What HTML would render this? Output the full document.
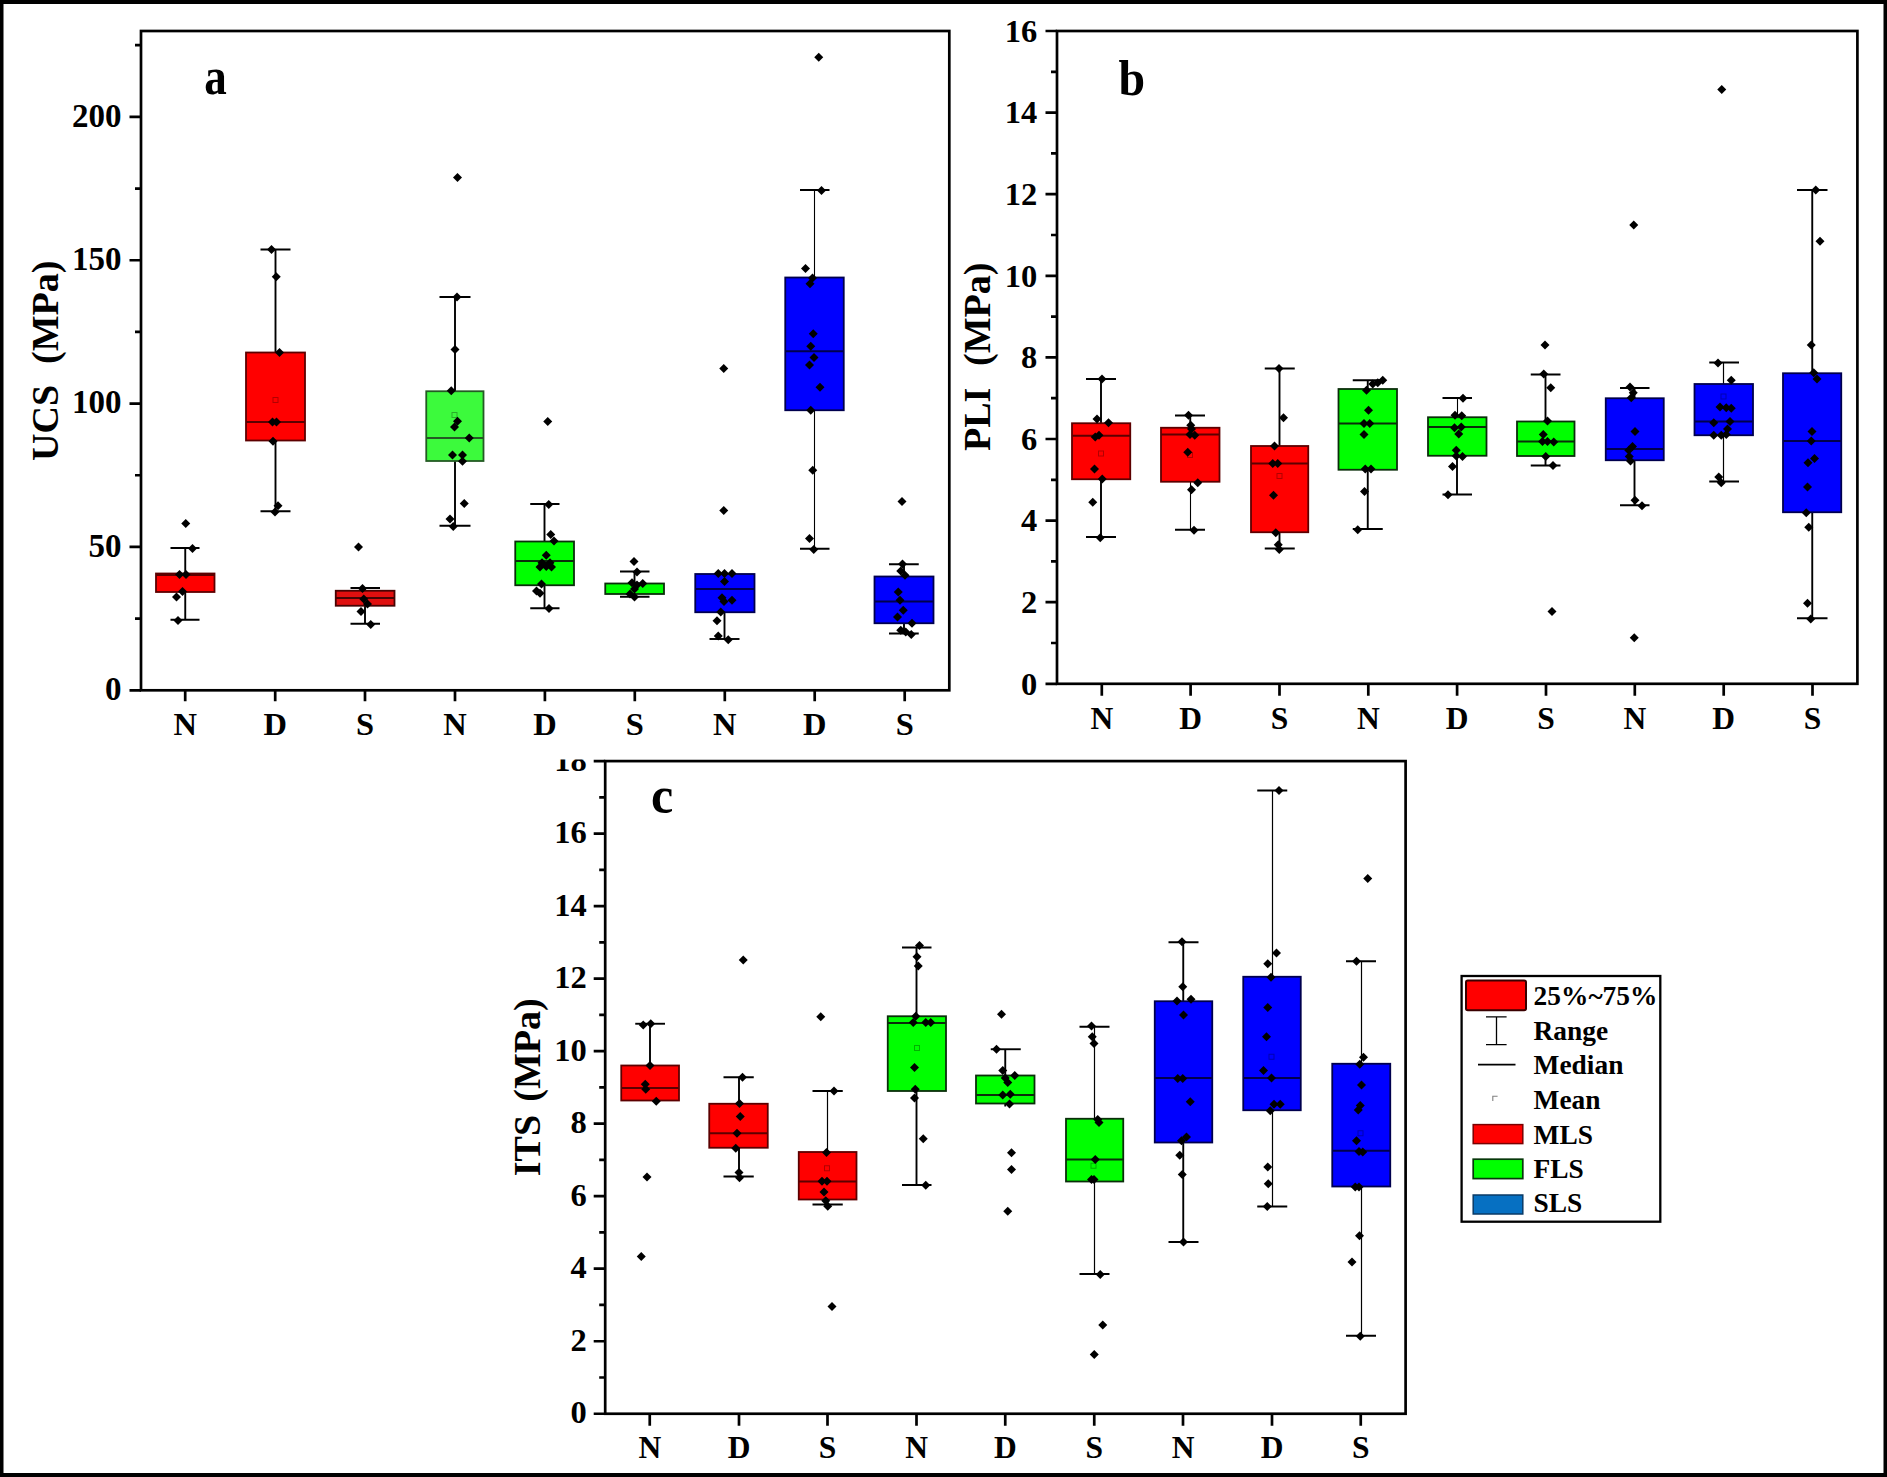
<!DOCTYPE html>
<html lang="en"><head><meta charset="utf-8"><title>Box plots of UCS, PLI and ITS</title>
<style>
html,body{margin:0;padding:0;background:#fff}
body{width:1887px;height:1477px;overflow:hidden}
svg{display:block}
.t{font-family:"Liberation Serif",serif;font-weight:bold;fill:#000}
.ax{stroke:#000;stroke-width:2.7;fill:none;stroke-linecap:butt}
.wh{stroke:#000;fill:none}
.bx{stroke-width:1.8}
.md{stroke-width:1.8;fill:none}
.mn{stroke:#000;stroke-opacity:.3;stroke-width:1;fill:none}
.pt{fill:#000}
</style></head><body>
<svg width="1887" height="1477" viewBox="0 0 1887 1477">
<rect x="0" y="0" width="1887" height="1477" fill="#fff"/>
<g class="ax">
<rect x="605.2" y="761.1" width="800.4" height="652.65" fill="none"/>
<path d="M593.7 1413.75H605.2M593.7 1341.23H605.2M593.7 1268.71H605.2M593.7 1196.19H605.2M593.7 1123.67H605.2M593.7 1051.15H605.2M593.7 978.63H605.2M593.7 906.11H605.2M593.7 833.59H605.2M593.7 761.07H605.2M599.2 1377.49H605.2M599.2 1304.97H605.2M599.2 1232.45H605.2M599.2 1159.93H605.2M599.2 1087.41H605.2M599.2 1014.89H605.2M599.2 942.37H605.2M599.2 869.85H605.2M599.2 797.33H605.2M649.75 1413.75V1425.75M739 1413.75V1425.75M827.5 1413.75V1425.75M916.5 1413.75V1425.75M1005.25 1413.75V1425.75M1094.25 1413.75V1425.75M1183 1413.75V1425.75M1272 1413.75V1425.75M1360.75 1413.75V1425.75"/>
</g>
<g class="wh">
<path d="M650 1023.75V1065.5" stroke-width="1.9"/>
<path d="M635.25 1023.75H665" stroke-width="1.9"/>
</g>
<rect class="bx" x="621.25" y="1065.5" width="57.75" height="35" fill="#ff0000" stroke="#5c0000"/>
<path class="md" d="M621.25 1088H679" stroke="#5c0000"/>
<g class="pt">
<path d="M647 1172.5l4.5 4.5l-4.5 4.5l-4.5 -4.5z"/>
<path d="M641.25 1252l4.5 4.5l-4.5 4.5l-4.5 -4.5z"/>
<path d="M643.25 1020.5l4.5 4.5l-4.5 4.5l-4.5 -4.5z"/>
<path d="M650.75 1019.25l4.5 4.5l-4.5 4.5l-4.5 -4.5z"/>
<path d="M650 1061l4.5 4.5l-4.5 4.5l-4.5 -4.5z"/>
<path d="M645.25 1079.75l4.5 4.5l-4.5 4.5l-4.5 -4.5z"/>
<path d="M645.75 1084.75l4.5 4.5l-4.5 4.5l-4.5 -4.5z"/>
<path d="M656.25 1096.75l4.5 4.5l-4.5 4.5l-4.5 -4.5z"/>
</g>
<g class="wh">
<path d="M739 1077.25V1103.75" stroke-width="1.9"/>
<path d="M739 1147.75V1176.5" stroke-width="1.9"/>
<path d="M723.5 1077.25H753.75M723.5 1176.5H753.75" stroke-width="1.9"/>
</g>
<rect class="bx" x="709.25" y="1103.75" width="58.5" height="44" fill="#ff0000" stroke="#5c0000"/>
<path class="md" d="M709.25 1133.25H767.75" stroke="#5c0000"/>
<g class="pt">
<path d="M743.25 955.5l4.5 4.5l-4.5 4.5l-4.5 -4.5z"/>
<path d="M742.5 1072.75l4.5 4.5l-4.5 4.5l-4.5 -4.5z"/>
<path d="M739.5 1099l4.5 4.5l-4.5 4.5l-4.5 -4.5z"/>
<path d="M740.25 1112l4.5 4.5l-4.5 4.5l-4.5 -4.5z"/>
<path d="M737 1128.75l4.5 4.5l-4.5 4.5l-4.5 -4.5z"/>
<path d="M735.75 1143.75l4.5 4.5l-4.5 4.5l-4.5 -4.5z"/>
<path d="M739 1168l4.5 4.5l-4.5 4.5l-4.5 -4.5z"/>
<path d="M739.5 1173.25l4.5 4.5l-4.5 4.5l-4.5 -4.5z"/>
</g>
<g class="wh">
<path d="M827.5 1091V1152" stroke-width="1.2"/>
<path d="M827.5 1199.5V1204.5" stroke-width="1.9"/>
<path d="M812.5 1091H842.75M812.5 1204.5H842.75" stroke-width="1.9"/>
</g>
<rect class="bx" x="798.75" y="1152" width="57.75" height="47.5" fill="#ff0000" stroke="#5c0000"/>
<path class="md" d="M798.75 1181.5H856.5" stroke="#5c0000"/>
<rect class="mn" x="824.5" y="1165.75" width="5" height="5"/>
<g class="pt">
<path d="M820.75 1012.25l4.5 4.5l-4.5 4.5l-4.5 -4.5z"/>
<path d="M832 1302l4.5 4.5l-4.5 4.5l-4.5 -4.5z"/>
<path d="M834 1086.5l4.5 4.5l-4.5 4.5l-4.5 -4.5z"/>
<path d="M826.5 1148l4.5 4.5l-4.5 4.5l-4.5 -4.5z"/>
<path d="M822 1176.75l4.5 4.5l-4.5 4.5l-4.5 -4.5z"/>
<path d="M827 1176.75l4.5 4.5l-4.5 4.5l-4.5 -4.5z"/>
<path d="M824 1187.5l4.5 4.5l-4.5 4.5l-4.5 -4.5z"/>
<path d="M825.75 1196.25l4.5 4.5l-4.5 4.5l-4.5 -4.5z"/>
<path d="M827.75 1201.75l4.5 4.5l-4.5 4.5l-4.5 -4.5z"/>
</g>
<g class="wh">
<path d="M916.5 947.5V1016.25" stroke-width="1.9"/>
<path d="M916.5 1091V1185" stroke-width="1.9"/>
<path d="M902 947.5H931.5M902 1185H931.5" stroke-width="1.9"/>
</g>
<rect class="bx" x="887.75" y="1016.25" width="58.25" height="74.75" fill="#00ff00" stroke="#0a2e0a"/>
<path class="md" d="M887.75 1023H946" stroke="#0a2e0a"/>
<rect class="mn" x="914.5" y="1045.5" width="5" height="5"/>
<g class="pt">
<path d="M919.5 941l4.5 4.5l-4.5 4.5l-4.5 -4.5z"/>
<path d="M917 952.25l4.5 4.5l-4.5 4.5l-4.5 -4.5z"/>
<path d="M918.25 961.5l4.5 4.5l-4.5 4.5l-4.5 -4.5z"/>
<path d="M915.75 1011.75l4.5 4.5l-4.5 4.5l-4.5 -4.5z"/>
<path d="M913.25 1018l4.5 4.5l-4.5 4.5l-4.5 -4.5z"/>
<path d="M925.75 1018l4.5 4.5l-4.5 4.5l-4.5 -4.5z"/>
<path d="M930.75 1018l4.5 4.5l-4.5 4.5l-4.5 -4.5z"/>
<path d="M914.5 1063l4.5 4.5l-4.5 4.5l-4.5 -4.5z"/>
<path d="M915.25 1084.75l4.5 4.5l-4.5 4.5l-4.5 -4.5z"/>
<path d="M914.5 1093.5l4.5 4.5l-4.5 4.5l-4.5 -4.5z"/>
<path d="M923.25 1134.25l4.5 4.5l-4.5 4.5l-4.5 -4.5z"/>
<path d="M925.75 1180.75l4.5 4.5l-4.5 4.5l-4.5 -4.5z"/>
</g>
<g class="wh">
<path d="M1005.25 1049.25V1075.5" stroke-width="1.9"/>
<path d="M1005.25 1103.5V1106.5" stroke-width="1.9"/>
<path d="M990.75 1049.25H1020.75" stroke-width="1.9"/>
</g>
<rect class="bx" x="976" y="1075.5" width="58.5" height="28" fill="#00ff00" stroke="#0a2e0a"/>
<path class="md" d="M976 1095H1034.5" stroke="#0a2e0a"/>
<g class="pt">
<path d="M1001.5 1009.75l4.5 4.5l-4.5 4.5l-4.5 -4.5z"/>
<path d="M1011.5 1148.25l4.5 4.5l-4.5 4.5l-4.5 -4.5z"/>
<path d="M1011.5 1165l4.5 4.5l-4.5 4.5l-4.5 -4.5z"/>
<path d="M1007.75 1206.75l4.5 4.5l-4.5 4.5l-4.5 -4.5z"/>
<path d="M996.5 1044.75l4.5 4.5l-4.5 4.5l-4.5 -4.5z"/>
<path d="M1002.75 1066l4.5 4.5l-4.5 4.5l-4.5 -4.5z"/>
<path d="M1014.75 1071l4.5 4.5l-4.5 4.5l-4.5 -4.5z"/>
<path d="M1005.25 1073.5l4.5 4.5l-4.5 4.5l-4.5 -4.5z"/>
<path d="M1007.75 1078l4.5 4.5l-4.5 4.5l-4.5 -4.5z"/>
<path d="M1002.75 1090.5l4.5 4.5l-4.5 4.5l-4.5 -4.5z"/>
<path d="M1010.25 1089.75l4.5 4.5l-4.5 4.5l-4.5 -4.5z"/>
<path d="M1009.5 1099.5l4.5 4.5l-4.5 4.5l-4.5 -4.5z"/>
</g>
<g class="wh">
<path d="M1094.5 1026.75V1118.75" stroke-width="1.2"/>
<path d="M1094.5 1181.5V1274" stroke-width="1.2"/>
<path d="M1079.5 1026.75H1109.5M1079.5 1274H1109.5" stroke-width="1.9"/>
</g>
<rect class="bx" x="1066" y="1118.75" width="57.25" height="62.75" fill="#00ff00" stroke="#0a2e0a"/>
<path class="md" d="M1066 1159.5H1123.25" stroke="#0a2e0a"/>
<rect class="mn" x="1091" y="1163.25" width="5" height="5"/>
<g class="pt">
<path d="M1102.75 1320.5l4.5 4.5l-4.5 4.5l-4.5 -4.5z"/>
<path d="M1094.25 1350l4.5 4.5l-4.5 4.5l-4.5 -4.5z"/>
<path d="M1091.5 1021.5l4.5 4.5l-4.5 4.5l-4.5 -4.5z"/>
<path d="M1092.25 1032.25l4.5 4.5l-4.5 4.5l-4.5 -4.5z"/>
<path d="M1094 1039l4.5 4.5l-4.5 4.5l-4.5 -4.5z"/>
<path d="M1097.75 1115l4.5 4.5l-4.5 4.5l-4.5 -4.5z"/>
<path d="M1099 1118l4.5 4.5l-4.5 4.5l-4.5 -4.5z"/>
<path d="M1095.25 1155l4.5 4.5l-4.5 4.5l-4.5 -4.5z"/>
<path d="M1091.5 1175l4.5 4.5l-4.5 4.5l-4.5 -4.5z"/>
<path d="M1094 1175l4.5 4.5l-4.5 4.5l-4.5 -4.5z"/>
<path d="M1100.25 1270l4.5 4.5l-4.5 4.5l-4.5 -4.5z"/>
</g>
<g class="wh">
<path d="M1183.25 942.25V1001.25" stroke-width="1.9"/>
<path d="M1183.25 1142.5V1242" stroke-width="1.9"/>
<path d="M1168.5 942.25H1198.5M1168.5 1242H1198.5" stroke-width="1.9"/>
</g>
<rect class="bx" x="1154.75" y="1001.25" width="57.5" height="141.25" fill="#0000ff" stroke="#00004d"/>
<path class="md" d="M1154.75 1078H1212.25" stroke="#00004d"/>
<g class="pt">
<path d="M1182 937.25l4.5 4.5l-4.5 4.5l-4.5 -4.5z"/>
<path d="M1182.75 982.25l4.5 4.5l-4.5 4.5l-4.5 -4.5z"/>
<path d="M1177 996.5l4.5 4.5l-4.5 4.5l-4.5 -4.5z"/>
<path d="M1191 994.75l4.5 4.5l-4.5 4.5l-4.5 -4.5z"/>
<path d="M1183.5 1010.5l4.5 4.5l-4.5 4.5l-4.5 -4.5z"/>
<path d="M1177.75 1074l4.5 4.5l-4.5 4.5l-4.5 -4.5z"/>
<path d="M1182.75 1074l4.5 4.5l-4.5 4.5l-4.5 -4.5z"/>
<path d="M1190.25 1097.25l4.5 4.5l-4.5 4.5l-4.5 -4.5z"/>
<path d="M1186.5 1132.5l4.5 4.5l-4.5 4.5l-4.5 -4.5z"/>
<path d="M1181.5 1136.25l4.5 4.5l-4.5 4.5l-4.5 -4.5z"/>
<path d="M1179.75 1150.75l4.5 4.5l-4.5 4.5l-4.5 -4.5z"/>
<path d="M1182.25 1170l4.5 4.5l-4.5 4.5l-4.5 -4.5z"/>
<path d="M1183.5 1237.5l4.5 4.5l-4.5 4.5l-4.5 -4.5z"/>
</g>
<g class="wh">
<path d="M1272.5 790.5V976.75" stroke-width="1.2"/>
<path d="M1272.5 1110.25V1206.5" stroke-width="1.2"/>
<path d="M1257.25 790.5H1287.25M1257.25 1206.5H1287.25" stroke-width="1.9"/>
</g>
<rect class="bx" x="1243.25" y="976.75" width="57.5" height="133.5" fill="#0000ff" stroke="#00004d"/>
<path class="md" d="M1243.25 1078H1300.75" stroke="#00004d"/>
<rect class="mn" x="1269" y="1054.25" width="5" height="5"/>
<g class="pt">
<path d="M1279 786l4.5 4.5l-4.5 4.5l-4.5 -4.5z"/>
<path d="M1276.5 948.5l4.5 4.5l-4.5 4.5l-4.5 -4.5z"/>
<path d="M1267.75 959.25l4.5 4.5l-4.5 4.5l-4.5 -4.5z"/>
<path d="M1271 972.75l4.5 4.5l-4.5 4.5l-4.5 -4.5z"/>
<path d="M1267.75 1003l4.5 4.5l-4.5 4.5l-4.5 -4.5z"/>
<path d="M1266.5 1032.25l4.5 4.5l-4.5 4.5l-4.5 -4.5z"/>
<path d="M1263.5 1066l4.5 4.5l-4.5 4.5l-4.5 -4.5z"/>
<path d="M1271.5 1073.5l4.5 4.5l-4.5 4.5l-4.5 -4.5z"/>
<path d="M1274 1099.75l4.5 4.5l-4.5 4.5l-4.5 -4.5z"/>
<path d="M1280.25 1099.75l4.5 4.5l-4.5 4.5l-4.5 -4.5z"/>
<path d="M1270.25 1106.25l4.5 4.5l-4.5 4.5l-4.5 -4.5z"/>
<path d="M1267.75 1162.5l4.5 4.5l-4.5 4.5l-4.5 -4.5z"/>
<path d="M1268.25 1179.25l4.5 4.5l-4.5 4.5l-4.5 -4.5z"/>
<path d="M1267.25 1202l4.5 4.5l-4.5 4.5l-4.5 -4.5z"/>
</g>
<g class="wh">
<path d="M1361.5 961.25V1063.75" stroke-width="1.2"/>
<path d="M1361.5 1186.5V1335.75" stroke-width="1.2"/>
<path d="M1346 961.25H1376M1346 1335.75H1376" stroke-width="1.9"/>
</g>
<rect class="bx" x="1332.25" y="1063.75" width="58" height="122.75" fill="#0000ff" stroke="#00004d"/>
<path class="md" d="M1332.25 1150.75H1390.25" stroke="#00004d"/>
<rect class="mn" x="1358" y="1130.75" width="5" height="5"/>
<g class="pt">
<path d="M1367.75 874l4.5 4.5l-4.5 4.5l-4.5 -4.5z"/>
<path d="M1356.5 956.75l4.5 4.5l-4.5 4.5l-4.5 -4.5z"/>
<path d="M1363.5 1052.75l4.5 4.5l-4.5 4.5l-4.5 -4.5z"/>
<path d="M1359.75 1059.75l4.5 4.5l-4.5 4.5l-4.5 -4.5z"/>
<path d="M1361.5 1080.5l4.5 4.5l-4.5 4.5l-4.5 -4.5z"/>
<path d="M1360.25 1101l4.5 4.5l-4.5 4.5l-4.5 -4.5z"/>
<path d="M1358.25 1105.5l4.5 4.5l-4.5 4.5l-4.5 -4.5z"/>
<path d="M1356.5 1136.25l4.5 4.5l-4.5 4.5l-4.5 -4.5z"/>
<path d="M1359 1147l4.5 4.5l-4.5 4.5l-4.5 -4.5z"/>
<path d="M1362.75 1147.5l4.5 4.5l-4.5 4.5l-4.5 -4.5z"/>
<path d="M1355.25 1182.5l4.5 4.5l-4.5 4.5l-4.5 -4.5z"/>
<path d="M1359 1182.5l4.5 4.5l-4.5 4.5l-4.5 -4.5z"/>
<path d="M1359.5 1231.25l4.5 4.5l-4.5 4.5l-4.5 -4.5z"/>
<path d="M1352 1257.5l4.5 4.5l-4.5 4.5l-4.5 -4.5z"/>
<path d="M1360.25 1331.75l4.5 4.5l-4.5 4.5l-4.5 -4.5z"/>
</g>
<g class="t" font-size="32.5" text-anchor="end">
<text x="586.8" y="1423.35">0</text>
<text x="586.8" y="1350.83">2</text>
<text x="586.8" y="1278.31">4</text>
<text x="586.8" y="1205.79">6</text>
<text x="586.8" y="1133.27">8</text>
<text x="586.8" y="1060.75">10</text>
<text x="586.8" y="988.23">12</text>
<text x="586.8" y="915.71">14</text>
<text x="586.8" y="843.19">16</text>
</g>
<clipPath id="clip18"><rect x="482" y="759.5" width="120" height="60"/></clipPath>
<g class="t" font-size="32.5" text-anchor="end" clip-path="url(#clip18)"><text x="586.8" y="770.67">18</text></g>
<g class="t" font-size="31.5" text-anchor="middle">
<text x="649.75" y="1458">N</text>
<text x="739" y="1458">D</text>
<text x="827.5" y="1458">S</text>
<text x="916.5" y="1458">N</text>
<text x="1005.25" y="1458">D</text>
<text x="1094.25" y="1458">S</text>
<text x="1183" y="1458">N</text>
<text x="1272" y="1458">D</text>
<text x="1360.75" y="1458">S</text>
</g>
<text class="t" font-size="46" transform="translate(650.9 813.2) scale(1.09 1.13)">c</text>
<text class="t" font-size="38" transform="translate(539.5 1176.2) rotate(-90)">ITS</text>
<text class="t" font-size="38" transform="translate(539.5 1101.7) rotate(-90)">(MPa)</text>
<g class="ax">
<rect x="141" y="31" width="808.3" height="659.3" fill="none"/>
<path d="M129.5 690.3H141M129.5 546.95H141M129.5 403.6H141M129.5 260.25H141M129.5 116.9H141M135 618.62H141M135 475.27H141M135 331.92H141M135 188.57H141M135 45.22H141M185.2 690.3V701.3M275.2 690.3V701.3M365 690.3V701.3M455 690.3V701.3M544.9 690.3V701.3M634.8 690.3V701.3M724.8 690.3V701.3M814.7 690.3V701.3M904.7 690.3V701.3"/>
</g>
<g class="wh">
<path d="M185.25 548V573.5" stroke-width="1.9"/>
<path d="M185.25 592V619.75" stroke-width="1.9"/>
<path d="M170.5 548H199.5M170.5 619.75H199.5" stroke-width="1.9"/>
</g>
<rect class="bx" x="156" y="573.5" width="58.5" height="18.5" fill="#ff0000" stroke="#5c0000"/>
<path class="md" d="M156 575H214.5" stroke="#5c0000"/>
<g class="pt">
<path d="M185.75 519l4.5 4.5l-4.5 4.5l-4.5 -4.5z"/>
<path d="M192.5 544l4.5 4.5l-4.5 4.5l-4.5 -4.5z"/>
<path d="M179.5 570l4.5 4.5l-4.5 4.5l-4.5 -4.5z"/>
<path d="M186 570l4.5 4.5l-4.5 4.5l-4.5 -4.5z"/>
<path d="M182.5 587l4.5 4.5l-4.5 4.5l-4.5 -4.5z"/>
<path d="M176.5 592.5l4.5 4.5l-4.5 4.5l-4.5 -4.5z"/>
<path d="M178 616l4.5 4.5l-4.5 4.5l-4.5 -4.5z"/>
</g>
<g class="wh">
<path d="M275.5 249.5V352.5" stroke-width="1.9"/>
<path d="M275.5 440.5V511.25" stroke-width="1.9"/>
<path d="M260.5 249.5H290.5M260.5 511.25H290.5" stroke-width="1.9"/>
</g>
<rect class="bx" x="246" y="352.5" width="59" height="88" fill="#ff0000" stroke="#5c0000"/>
<path class="md" d="M246 422H305" stroke="#5c0000"/>
<rect class="mn" x="273" y="397.5" width="5" height="5"/>
<g class="pt">
<path d="M271.5 245l4.5 4.5l-4.5 4.5l-4.5 -4.5z"/>
<path d="M276.25 272.25l4.5 4.5l-4.5 4.5l-4.5 -4.5z"/>
<path d="M279.5 348l4.5 4.5l-4.5 4.5l-4.5 -4.5z"/>
<path d="M272.5 417.5l4.5 4.5l-4.5 4.5l-4.5 -4.5z"/>
<path d="M276.5 417.5l4.5 4.5l-4.5 4.5l-4.5 -4.5z"/>
<path d="M273 436.75l4.5 4.5l-4.5 4.5l-4.5 -4.5z"/>
<path d="M278 501.25l4.5 4.5l-4.5 4.5l-4.5 -4.5z"/>
<path d="M275 507.5l4.5 4.5l-4.5 4.5l-4.5 -4.5z"/>
</g>
<g class="wh">
<path d="M365 588V590.75" stroke-width="1.9"/>
<path d="M365 605.75V623.75" stroke-width="1.9"/>
<path d="M350.5 588H380M350.5 623.75H380" stroke-width="1.9"/>
</g>
<rect class="bx" x="335.75" y="590.75" width="58.75" height="15" fill="#e00f0f" stroke="#470404"/>
<path class="md" d="M335.75 598H394.5" stroke="#470404"/>
<g class="pt">
<path d="M358.5 542.5l4.5 4.5l-4.5 4.5l-4.5 -4.5z"/>
<path d="M362.5 584l4.5 4.5l-4.5 4.5l-4.5 -4.5z"/>
<path d="M363.75 594.5l4.5 4.5l-4.5 4.5l-4.5 -4.5z"/>
<path d="M367.5 599.5l4.5 4.5l-4.5 4.5l-4.5 -4.5z"/>
<path d="M361 607l4.5 4.5l-4.5 4.5l-4.5 -4.5z"/>
<path d="M370.75 620l4.5 4.5l-4.5 4.5l-4.5 -4.5z"/>
</g>
<g class="wh">
<path d="M455 297V391.25" stroke-width="1.9"/>
<path d="M455 461V525.75" stroke-width="1.9"/>
<path d="M439.5 297H470.5M439.5 525.75H470.5" stroke-width="1.9"/>
</g>
<rect class="bx" x="426.25" y="391.25" width="57.25" height="69.75" fill="#3cfa3c" stroke="#245a24"/>
<path class="md" d="M426.25 438H483.5" stroke="#245a24"/>
<rect class="mn" x="452" y="412.5" width="5" height="5"/>
<g class="pt">
<path d="M457.5 173l4.5 4.5l-4.5 4.5l-4.5 -4.5z"/>
<path d="M457 292.5l4.5 4.5l-4.5 4.5l-4.5 -4.5z"/>
<path d="M455 345l4.5 4.5l-4.5 4.5l-4.5 -4.5z"/>
<path d="M451.25 386.25l4.5 4.5l-4.5 4.5l-4.5 -4.5z"/>
<path d="M457.5 416.75l4.5 4.5l-4.5 4.5l-4.5 -4.5z"/>
<path d="M454.5 422.5l4.5 4.5l-4.5 4.5l-4.5 -4.5z"/>
<path d="M469.25 433.5l4.5 4.5l-4.5 4.5l-4.5 -4.5z"/>
<path d="M452.5 450.5l4.5 4.5l-4.5 4.5l-4.5 -4.5z"/>
<path d="M462.5 450.5l4.5 4.5l-4.5 4.5l-4.5 -4.5z"/>
<path d="M462.5 456.75l4.5 4.5l-4.5 4.5l-4.5 -4.5z"/>
<path d="M464.25 499l4.5 4.5l-4.5 4.5l-4.5 -4.5z"/>
<path d="M450 514.5l4.5 4.5l-4.5 4.5l-4.5 -4.5z"/>
<path d="M453.25 522l4.5 4.5l-4.5 4.5l-4.5 -4.5z"/>
</g>
<g class="wh">
<path d="M544.5 504V541.5" stroke-width="1.9"/>
<path d="M544.5 585.25V608.25" stroke-width="1.9"/>
<path d="M530.25 504H559.5M530.25 608.25H559.5" stroke-width="1.9"/>
</g>
<rect class="bx" x="515.25" y="541.5" width="58.75" height="43.75" fill="#00ff00" stroke="#0a2e0a"/>
<path class="md" d="M515.25 561H574" stroke="#0a2e0a"/>
<g class="pt">
<path d="M547.75 417l4.5 4.5l-4.5 4.5l-4.5 -4.5z"/>
<path d="M548.75 500l4.5 4.5l-4.5 4.5l-4.5 -4.5z"/>
<path d="M550.75 530l4.5 4.5l-4.5 4.5l-4.5 -4.5z"/>
<path d="M554 536.5l4.5 4.5l-4.5 4.5l-4.5 -4.5z"/>
<path d="M546.25 550.75l4.5 4.5l-4.5 4.5l-4.5 -4.5z"/>
<path d="M542 558.25l4.5 4.5l-4.5 4.5l-4.5 -4.5z"/>
<path d="M550 558.25l4.5 4.5l-4.5 4.5l-4.5 -4.5z"/>
<path d="M540 562.5l4.5 4.5l-4.5 4.5l-4.5 -4.5z"/>
<path d="M546.25 562l4.5 4.5l-4.5 4.5l-4.5 -4.5z"/>
<path d="M551.5 562.5l4.5 4.5l-4.5 4.5l-4.5 -4.5z"/>
<path d="M541.5 579.5l4.5 4.5l-4.5 4.5l-4.5 -4.5z"/>
<path d="M536.5 586.5l4.5 4.5l-4.5 4.5l-4.5 -4.5z"/>
<path d="M540 588.75l4.5 4.5l-4.5 4.5l-4.5 -4.5z"/>
<path d="M549 604l4.5 4.5l-4.5 4.5l-4.5 -4.5z"/>
</g>
<g class="wh">
<path d="M634.5 571.5V583.5" stroke-width="1.9"/>
<path d="M634.5 594V596.75" stroke-width="1.9"/>
<path d="M620 571.5H649.5M620 596.75H649.5" stroke-width="1.9"/>
</g>
<rect class="bx" x="605.25" y="583.5" width="58.75" height="10.5" fill="#00ff00" stroke="#0a2e0a"/>
<g class="pt">
<path d="M634 557l4.5 4.5l-4.5 4.5l-4.5 -4.5z"/>
<path d="M637 567.5l4.5 4.5l-4.5 4.5l-4.5 -4.5z"/>
<path d="M632 578.25l4.5 4.5l-4.5 4.5l-4.5 -4.5z"/>
<path d="M642.75 579l4.5 4.5l-4.5 4.5l-4.5 -4.5z"/>
<path d="M637 580.5l4.5 4.5l-4.5 4.5l-4.5 -4.5z"/>
<path d="M634.5 584.5l4.5 4.5l-4.5 4.5l-4.5 -4.5z"/>
<path d="M630 589.5l4.5 4.5l-4.5 4.5l-4.5 -4.5z"/>
<path d="M634.5 592.5l4.5 4.5l-4.5 4.5l-4.5 -4.5z"/>
</g>
<g class="wh">
<path d="M724.5 612.25V639" stroke-width="1.9"/>
<path d="M709.5 639H739.5" stroke-width="1.9"/>
</g>
<rect class="bx" x="695.25" y="574" width="59.25" height="38.25" fill="#0000ff" stroke="#00004d"/>
<path class="md" d="M695.25 589H754.5" stroke="#00004d"/>
<g class="pt">
<path d="M723.75 364l4.5 4.5l-4.5 4.5l-4.5 -4.5z"/>
<path d="M723.75 506l4.5 4.5l-4.5 4.5l-4.5 -4.5z"/>
<path d="M718.25 569l4.5 4.5l-4.5 4.5l-4.5 -4.5z"/>
<path d="M724.5 569l4.5 4.5l-4.5 4.5l-4.5 -4.5z"/>
<path d="M732 569l4.5 4.5l-4.5 4.5l-4.5 -4.5z"/>
<path d="M724.5 577l4.5 4.5l-4.5 4.5l-4.5 -4.5z"/>
<path d="M722 593.25l4.5 4.5l-4.5 4.5l-4.5 -4.5z"/>
<path d="M732 595.75l4.5 4.5l-4.5 4.5l-4.5 -4.5z"/>
<path d="M724 597l4.5 4.5l-4.5 4.5l-4.5 -4.5z"/>
<path d="M720.75 607.5l4.5 4.5l-4.5 4.5l-4.5 -4.5z"/>
<path d="M717 616.25l4.5 4.5l-4.5 4.5l-4.5 -4.5z"/>
<path d="M718.25 631.5l4.5 4.5l-4.5 4.5l-4.5 -4.5z"/>
<path d="M728.25 635.25l4.5 4.5l-4.5 4.5l-4.5 -4.5z"/>
</g>
<g class="wh">
<path d="M814.5 190V277.5" stroke-width="1.1"/>
<path d="M814.5 410.25V548.75" stroke-width="1.1"/>
<path d="M800 190H829.5M800 548.75H829.5" stroke-width="1.9"/>
</g>
<rect class="bx" x="785.25" y="277.5" width="58.5" height="132.75" fill="#0000ff" stroke="#00004d"/>
<path class="md" d="M785.25 351.25H843.75" stroke="#00004d"/>
<g class="pt">
<path d="M818.75 52.75l4.5 4.5l-4.5 4.5l-4.5 -4.5z"/>
<path d="M821.5 186l4.5 4.5l-4.5 4.5l-4.5 -4.5z"/>
<path d="M805.5 264l4.5 4.5l-4.5 4.5l-4.5 -4.5z"/>
<path d="M812.5 273.5l4.5 4.5l-4.5 4.5l-4.5 -4.5z"/>
<path d="M810 279.25l4.5 4.5l-4.5 4.5l-4.5 -4.5z"/>
<path d="M813.25 329.25l4.5 4.5l-4.5 4.5l-4.5 -4.5z"/>
<path d="M810.75 341.75l4.5 4.5l-4.5 4.5l-4.5 -4.5z"/>
<path d="M814 353l4.5 4.5l-4.5 4.5l-4.5 -4.5z"/>
<path d="M809.5 360.5l4.5 4.5l-4.5 4.5l-4.5 -4.5z"/>
<path d="M820 382.75l4.5 4.5l-4.5 4.5l-4.5 -4.5z"/>
<path d="M810.75 405.75l4.5 4.5l-4.5 4.5l-4.5 -4.5z"/>
<path d="M812.75 465.75l4.5 4.5l-4.5 4.5l-4.5 -4.5z"/>
<path d="M809.5 534l4.5 4.5l-4.5 4.5l-4.5 -4.5z"/>
<path d="M813.75 545l4.5 4.5l-4.5 4.5l-4.5 -4.5z"/>
</g>
<g class="wh">
<path d="M904 564.25V576.5" stroke-width="1.9"/>
<path d="M904 623.25V633.5" stroke-width="1.9"/>
<path d="M889 564.25H918.75M889 633.5H918.75" stroke-width="1.9"/>
</g>
<rect class="bx" x="874.5" y="576.5" width="59" height="46.75" fill="#0000ff" stroke="#00004d"/>
<path class="md" d="M874.5 601.5H933.5" stroke="#00004d"/>
<g class="pt">
<path d="M902 497l4.5 4.5l-4.5 4.5l-4.5 -4.5z"/>
<path d="M902.5 559.5l4.5 4.5l-4.5 4.5l-4.5 -4.5z"/>
<path d="M900.75 566.5l4.5 4.5l-4.5 4.5l-4.5 -4.5z"/>
<path d="M905 570.75l4.5 4.5l-4.5 4.5l-4.5 -4.5z"/>
<path d="M898.25 587.5l4.5 4.5l-4.5 4.5l-4.5 -4.5z"/>
<path d="M900 595.75l4.5 4.5l-4.5 4.5l-4.5 -4.5z"/>
<path d="M903.25 605.75l4.5 4.5l-4.5 4.5l-4.5 -4.5z"/>
<path d="M897.5 612.5l4.5 4.5l-4.5 4.5l-4.5 -4.5z"/>
<path d="M912 618.75l4.5 4.5l-4.5 4.5l-4.5 -4.5z"/>
<path d="M900.75 625.75l4.5 4.5l-4.5 4.5l-4.5 -4.5z"/>
<path d="M905.75 627.5l4.5 4.5l-4.5 4.5l-4.5 -4.5z"/>
<path d="M911.25 630l4.5 4.5l-4.5 4.5l-4.5 -4.5z"/>
</g>
<g class="t" font-size="33" text-anchor="end">
<text x="121.4" y="700.1">0</text>
<text x="121.4" y="556.75">50</text>
<text x="121.4" y="413.4">100</text>
<text x="121.4" y="270.05">150</text>
<text x="121.4" y="126.7">200</text>
</g>
<g class="t" font-size="32.5" text-anchor="middle">
<text x="185.2" y="735.2">N</text>
<text x="275.2" y="735.2">D</text>
<text x="365" y="735.2">S</text>
<text x="455" y="735.2">N</text>
<text x="544.9" y="735.2">D</text>
<text x="634.8" y="735.2">S</text>
<text x="724.8" y="735.2">N</text>
<text x="814.7" y="735.2">D</text>
<text x="904.7" y="735.2">S</text>
</g>
<text class="t" font-size="46" transform="translate(204.3 94.4) scale(0.98 1.13)">a</text>
<text class="t" font-size="38" transform="translate(57.7 461) rotate(-90)">UCS</text>
<text class="t" font-size="38" transform="translate(57.7 364) rotate(-90)">(MPa)</text>
<g class="ax">
<rect x="1057" y="31" width="800.4" height="652.8" fill="none"/>
<path d="M1045.5 683.8H1057M1045.5 602.2H1057M1045.5 520.6H1057M1045.5 439H1057M1045.5 357.4H1057M1045.5 275.8H1057M1045.5 194.2H1057M1045.5 112.6H1057M1045.5 31H1057M1051 643H1057M1051 561.4H1057M1051 479.8H1057M1051 398.2H1057M1051 316.6H1057M1051 235H1057M1051 153.4H1057M1051 71.8H1057M1101.8 683.8V695.8M1190.6 683.8V695.8M1279.5 683.8V695.8M1368.3 683.8V695.8M1457.1 683.8V695.8M1546 683.8V695.8M1634.8 683.8V695.8M1723.7 683.8V695.8M1812.5 683.8V695.8"/>
</g>
<g class="wh">
<path d="M1101 379V423.25" stroke-width="1.9"/>
<path d="M1101 479.25V537" stroke-width="1.9"/>
<path d="M1086 379H1116M1086 537H1116" stroke-width="1.9"/>
</g>
<rect class="bx" x="1072" y="423.25" width="58.25" height="56" fill="#ff0000" stroke="#5c0000"/>
<path class="md" d="M1072 435.75H1130.25" stroke="#5c0000"/>
<rect class="mn" x="1098.5" y="451" width="5" height="5"/>
<g class="pt">
<path d="M1102 374.5l4.5 4.5l-4.5 4.5l-4.5 -4.5z"/>
<path d="M1097 414.5l4.5 4.5l-4.5 4.5l-4.5 -4.5z"/>
<path d="M1108.5 418.25l4.5 4.5l-4.5 4.5l-4.5 -4.5z"/>
<path d="M1095.25 432.5l4.5 4.5l-4.5 4.5l-4.5 -4.5z"/>
<path d="M1099 430.75l4.5 4.5l-4.5 4.5l-4.5 -4.5z"/>
<path d="M1094.5 464.5l4.5 4.5l-4.5 4.5l-4.5 -4.5z"/>
<path d="M1102.25 474.5l4.5 4.5l-4.5 4.5l-4.5 -4.5z"/>
<path d="M1092.75 497.75l4.5 4.5l-4.5 4.5l-4.5 -4.5z"/>
<path d="M1100.25 533.25l4.5 4.5l-4.5 4.5l-4.5 -4.5z"/>
</g>
<g class="wh">
<path d="M1190.25 415.5V427.75" stroke-width="1.9"/>
<path d="M1190.5 481.75V529.75" stroke-width="1.1"/>
<path d="M1175 415.5H1205M1175 529.75H1205" stroke-width="1.9"/>
</g>
<rect class="bx" x="1161" y="427.75" width="58.5" height="54" fill="#ff0000" stroke="#5c0000"/>
<path class="md" d="M1161 434.5H1219.5" stroke="#5c0000"/>
<rect class="mn" x="1187.5" y="452.5" width="5" height="5"/>
<g class="pt">
<path d="M1188.5 410.75l4.5 4.5l-4.5 4.5l-4.5 -4.5z"/>
<path d="M1190.75 420.75l4.5 4.5l-4.5 4.5l-4.5 -4.5z"/>
<path d="M1191.5 424.5l4.5 4.5l-4.5 4.5l-4.5 -4.5z"/>
<path d="M1190 430l4.5 4.5l-4.5 4.5l-4.5 -4.5z"/>
<path d="M1194.75 430.75l4.5 4.5l-4.5 4.5l-4.5 -4.5z"/>
<path d="M1187.75 447.75l4.5 4.5l-4.5 4.5l-4.5 -4.5z"/>
<path d="M1197.75 478.25l4.5 4.5l-4.5 4.5l-4.5 -4.5z"/>
<path d="M1191.5 485.25l4.5 4.5l-4.5 4.5l-4.5 -4.5z"/>
<path d="M1194 525.75l4.5 4.5l-4.5 4.5l-4.5 -4.5z"/>
</g>
<g class="wh">
<path d="M1279.5 368.5V446" stroke-width="1.9"/>
<path d="M1279.5 532.25V548.5" stroke-width="1.9"/>
<path d="M1264.75 368.5H1294.75M1264.75 548.5H1294.75" stroke-width="1.9"/>
</g>
<rect class="bx" x="1251" y="446" width="57.25" height="86.25" fill="#ff0000" stroke="#5c0000"/>
<path class="md" d="M1251 463.5H1308.25" stroke="#5c0000"/>
<rect class="mn" x="1277" y="473.5" width="5" height="5"/>
<g class="pt">
<path d="M1279 364l4.5 4.5l-4.5 4.5l-4.5 -4.5z"/>
<path d="M1283.5 413.25l4.5 4.5l-4.5 4.5l-4.5 -4.5z"/>
<path d="M1274.5 441.5l4.5 4.5l-4.5 4.5l-4.5 -4.5z"/>
<path d="M1272.75 459l4.5 4.5l-4.5 4.5l-4.5 -4.5z"/>
<path d="M1277.75 459l4.5 4.5l-4.5 4.5l-4.5 -4.5z"/>
<path d="M1273.5 490.75l4.5 4.5l-4.5 4.5l-4.5 -4.5z"/>
<path d="M1275.75 528.25l4.5 4.5l-4.5 4.5l-4.5 -4.5z"/>
<path d="M1278.25 540.25l4.5 4.5l-4.5 4.5l-4.5 -4.5z"/>
<path d="M1279.25 545l4.5 4.5l-4.5 4.5l-4.5 -4.5z"/>
</g>
<g class="wh">
<path d="M1367.75 380.25V389" stroke-width="1.9"/>
<path d="M1367.75 469.75V529" stroke-width="1.9"/>
<path d="M1352.75 380.25H1382.75M1352.75 529H1382.75" stroke-width="1.9"/>
</g>
<rect class="bx" x="1338.5" y="389" width="58.5" height="80.75" fill="#00ff00" stroke="#0a2e0a"/>
<path class="md" d="M1338.5 423.5H1397" stroke="#0a2e0a"/>
<g class="pt">
<path d="M1382.75 375.75l4.5 4.5l-4.5 4.5l-4.5 -4.5z"/>
<path d="M1377.75 378.25l4.5 4.5l-4.5 4.5l-4.5 -4.5z"/>
<path d="M1372.75 379.5l4.5 4.5l-4.5 4.5l-4.5 -4.5z"/>
<path d="M1366.5 385.75l4.5 4.5l-4.5 4.5l-4.5 -4.5z"/>
<path d="M1368.5 405.75l4.5 4.5l-4.5 4.5l-4.5 -4.5z"/>
<path d="M1364 419l4.5 4.5l-4.5 4.5l-4.5 -4.5z"/>
<path d="M1369.75 419l4.5 4.5l-4.5 4.5l-4.5 -4.5z"/>
<path d="M1364 430l4.5 4.5l-4.5 4.5l-4.5 -4.5z"/>
<path d="M1365.25 464.5l4.5 4.5l-4.5 4.5l-4.5 -4.5z"/>
<path d="M1371 464.5l4.5 4.5l-4.5 4.5l-4.5 -4.5z"/>
<path d="M1364.5 487l4.5 4.5l-4.5 4.5l-4.5 -4.5z"/>
<path d="M1357.75 525.25l4.5 4.5l-4.5 4.5l-4.5 -4.5z"/>
</g>
<g class="wh">
<path d="M1457.5 398V417.25" stroke-width="1.1"/>
<path d="M1457 455.75V494.5" stroke-width="1.9"/>
<path d="M1442.5 398H1472M1442.5 494.5H1472" stroke-width="1.9"/>
</g>
<rect class="bx" x="1428" y="417.25" width="58.5" height="38.5" fill="#00ff00" stroke="#0a2e0a"/>
<path class="md" d="M1428 427H1486.5" stroke="#0a2e0a"/>
<g class="pt">
<path d="M1463 393.75l4.5 4.5l-4.5 4.5l-4.5 -4.5z"/>
<path d="M1455 410.75l4.5 4.5l-4.5 4.5l-4.5 -4.5z"/>
<path d="M1461.75 411.25l4.5 4.5l-4.5 4.5l-4.5 -4.5z"/>
<path d="M1454.5 423.25l4.5 4.5l-4.5 4.5l-4.5 -4.5z"/>
<path d="M1461.25 422.5l4.5 4.5l-4.5 4.5l-4.5 -4.5z"/>
<path d="M1458.75 429.5l4.5 4.5l-4.5 4.5l-4.5 -4.5z"/>
<path d="M1456.25 445.75l4.5 4.5l-4.5 4.5l-4.5 -4.5z"/>
<path d="M1456.25 451.5l4.5 4.5l-4.5 4.5l-4.5 -4.5z"/>
<path d="M1462.5 452l4.5 4.5l-4.5 4.5l-4.5 -4.5z"/>
<path d="M1452.5 462l4.5 4.5l-4.5 4.5l-4.5 -4.5z"/>
<path d="M1448 490.25l4.5 4.5l-4.5 4.5l-4.5 -4.5z"/>
</g>
<g class="wh">
<path d="M1545.5 374.5V421.5" stroke-width="1.9"/>
<path d="M1545.5 456V465.5" stroke-width="1.9"/>
<path d="M1530.75 374.5H1560.5M1530.75 465.5H1560.5" stroke-width="1.9"/>
</g>
<rect class="bx" x="1517" y="421.5" width="57.5" height="34.5" fill="#00ff00" stroke="#0a2e0a"/>
<path class="md" d="M1517 441.5H1574.5" stroke="#0a2e0a"/>
<g class="pt">
<path d="M1545 340.5l4.5 4.5l-4.5 4.5l-4.5 -4.5z"/>
<path d="M1552 607l4.5 4.5l-4.5 4.5l-4.5 -4.5z"/>
<path d="M1543.75 369.5l4.5 4.5l-4.5 4.5l-4.5 -4.5z"/>
<path d="M1550.75 383.25l4.5 4.5l-4.5 4.5l-4.5 -4.5z"/>
<path d="M1547.5 416.5l4.5 4.5l-4.5 4.5l-4.5 -4.5z"/>
<path d="M1543.25 430l4.5 4.5l-4.5 4.5l-4.5 -4.5z"/>
<path d="M1542.5 437l4.5 4.5l-4.5 4.5l-4.5 -4.5z"/>
<path d="M1547.5 437l4.5 4.5l-4.5 4.5l-4.5 -4.5z"/>
<path d="M1553.75 437.5l4.5 4.5l-4.5 4.5l-4.5 -4.5z"/>
<path d="M1545.75 452l4.5 4.5l-4.5 4.5l-4.5 -4.5z"/>
<path d="M1553 461l4.5 4.5l-4.5 4.5l-4.5 -4.5z"/>
</g>
<g class="wh">
<path d="M1634.5 388V398.25" stroke-width="1.9"/>
<path d="M1634.5 460.25V505.25" stroke-width="1.9"/>
<path d="M1620 388H1649.5M1620 505.25H1649.5" stroke-width="1.9"/>
</g>
<rect class="bx" x="1605.75" y="398.25" width="58" height="62" fill="#0000ff" stroke="#00004d"/>
<path class="md" d="M1605.75 449H1663.75" stroke="#00004d"/>
<g class="pt">
<path d="M1633.75 220.5l4.5 4.5l-4.5 4.5l-4.5 -4.5z"/>
<path d="M1634.25 633.25l4.5 4.5l-4.5 4.5l-4.5 -4.5z"/>
<path d="M1630 382.5l4.5 4.5l-4.5 4.5l-4.5 -4.5z"/>
<path d="M1633.25 388.25l4.5 4.5l-4.5 4.5l-4.5 -4.5z"/>
<path d="M1631.25 393.25l4.5 4.5l-4.5 4.5l-4.5 -4.5z"/>
<path d="M1635 427l4.5 4.5l-4.5 4.5l-4.5 -4.5z"/>
<path d="M1632.5 442l4.5 4.5l-4.5 4.5l-4.5 -4.5z"/>
<path d="M1628.75 445.75l4.5 4.5l-4.5 4.5l-4.5 -4.5z"/>
<path d="M1629.25 452l4.5 4.5l-4.5 4.5l-4.5 -4.5z"/>
<path d="M1630.5 456.5l4.5 4.5l-4.5 4.5l-4.5 -4.5z"/>
<path d="M1635 495.75l4.5 4.5l-4.5 4.5l-4.5 -4.5z"/>
<path d="M1642 501.25l4.5 4.5l-4.5 4.5l-4.5 -4.5z"/>
</g>
<g class="wh">
<path d="M1723.5 362.5V384" stroke-width="1.2"/>
<path d="M1723.5 435.25V481.5" stroke-width="1.2"/>
<path d="M1709.25 362.5H1739M1709.25 481.5H1739" stroke-width="1.9"/>
</g>
<rect class="bx" x="1694.5" y="384" width="58.5" height="51.25" fill="#0000ff" stroke="#00004d"/>
<path class="md" d="M1694.5 421.5H1753" stroke="#00004d"/>
<rect class="mn" x="1721" y="394" width="5" height="5"/>
<g class="pt">
<path d="M1721.75 85l4.5 4.5l-4.5 4.5l-4.5 -4.5z"/>
<path d="M1718 358.5l4.5 4.5l-4.5 4.5l-4.5 -4.5z"/>
<path d="M1731.25 375.75l4.5 4.5l-4.5 4.5l-4.5 -4.5z"/>
<path d="M1720 402.5l4.5 4.5l-4.5 4.5l-4.5 -4.5z"/>
<path d="M1726.25 403.25l4.5 4.5l-4.5 4.5l-4.5 -4.5z"/>
<path d="M1731.25 403.75l4.5 4.5l-4.5 4.5l-4.5 -4.5z"/>
<path d="M1713.75 418.25l4.5 4.5l-4.5 4.5l-4.5 -4.5z"/>
<path d="M1730 417l4.5 4.5l-4.5 4.5l-4.5 -4.5z"/>
<path d="M1727.5 424.5l4.5 4.5l-4.5 4.5l-4.5 -4.5z"/>
<path d="M1713.75 430.75l4.5 4.5l-4.5 4.5l-4.5 -4.5z"/>
<path d="M1721.25 430.75l4.5 4.5l-4.5 4.5l-4.5 -4.5z"/>
<path d="M1726.25 430l4.5 4.5l-4.5 4.5l-4.5 -4.5z"/>
<path d="M1718.75 472.5l4.5 4.5l-4.5 4.5l-4.5 -4.5z"/>
<path d="M1721.25 478.25l4.5 4.5l-4.5 4.5l-4.5 -4.5z"/>
</g>
<g class="wh">
<path d="M1812.25 190V373.25" stroke-width="1.9"/>
<path d="M1812.25 512.25V618.25" stroke-width="1.9"/>
<path d="M1797 190H1827.5M1797 618.25H1827.5" stroke-width="1.9"/>
</g>
<rect class="bx" x="1783" y="373.25" width="58.25" height="139" fill="#0000ff" stroke="#00004d"/>
<path class="md" d="M1783 441H1841.25" stroke="#00004d"/>
<g class="pt">
<path d="M1815.75 185.5l4.5 4.5l-4.5 4.5l-4.5 -4.5z"/>
<path d="M1820 236.75l4.5 4.5l-4.5 4.5l-4.5 -4.5z"/>
<path d="M1811.25 340.5l4.5 4.5l-4.5 4.5l-4.5 -4.5z"/>
<path d="M1813.75 368.25l4.5 4.5l-4.5 4.5l-4.5 -4.5z"/>
<path d="M1817 374.5l4.5 4.5l-4.5 4.5l-4.5 -4.5z"/>
<path d="M1812 427l4.5 4.5l-4.5 4.5l-4.5 -4.5z"/>
<path d="M1811.25 436.5l4.5 4.5l-4.5 4.5l-4.5 -4.5z"/>
<path d="M1814.5 454l4.5 4.5l-4.5 4.5l-4.5 -4.5z"/>
<path d="M1808 458.25l4.5 4.5l-4.5 4.5l-4.5 -4.5z"/>
<path d="M1807.5 482.5l4.5 4.5l-4.5 4.5l-4.5 -4.5z"/>
<path d="M1806.25 508.25l4.5 4.5l-4.5 4.5l-4.5 -4.5z"/>
<path d="M1808.75 522.75l4.5 4.5l-4.5 4.5l-4.5 -4.5z"/>
<path d="M1807.5 598.75l4.5 4.5l-4.5 4.5l-4.5 -4.5z"/>
<path d="M1810.75 614.5l4.5 4.5l-4.5 4.5l-4.5 -4.5z"/>
</g>
<g class="t" font-size="32.5" text-anchor="end">
<text x="1037.3" y="694.6">0</text>
<text x="1037.3" y="613">2</text>
<text x="1037.3" y="531.4">4</text>
<text x="1037.3" y="449.8">6</text>
<text x="1037.3" y="368.2">8</text>
<text x="1037.3" y="286.6">10</text>
<text x="1037.3" y="205">12</text>
<text x="1037.3" y="123.4">14</text>
<text x="1037.3" y="41.8">16</text>
</g>
<g class="t" font-size="31.5" text-anchor="middle">
<text x="1101.8" y="729.3">N</text>
<text x="1190.6" y="729.3">D</text>
<text x="1279.5" y="729.3">S</text>
<text x="1368.3" y="729.3">N</text>
<text x="1457.1" y="729.3">D</text>
<text x="1546" y="729.3">S</text>
<text x="1634.8" y="729.3">N</text>
<text x="1723.7" y="729.3">D</text>
<text x="1812.5" y="729.3">S</text>
</g>
<text class="t" font-size="46" transform="translate(1118.4 94.6) scale(1.04 1.1)">b</text>
<text class="t" font-size="38" transform="translate(990 451) rotate(-90)">PLI</text>
<text class="t" font-size="38" transform="translate(990 366) rotate(-90)">(MPa)</text>
<rect x="1461.6" y="976" width="198.7" height="245.7" fill="#fff" stroke="#000" stroke-width="2.3"/>
<rect x="1466" y="980.5" width="60" height="29.8" rx="1.8" fill="#ff0000" stroke="#3a0000" stroke-width="2"/>
<path d="M1496.5 1016.9V1044.7M1486 1016.9H1506.6M1486 1044.7H1506.6" stroke="#000" stroke-width="1.3" fill="none"/>
<path d="M1478 1064.6H1515.5" stroke="#000" stroke-width="1.8" fill="none"/>
<path d="M1492.8 1101V1096.3H1497.6" fill="none" stroke="#000" stroke-opacity=".5" stroke-width="1.1"/>
<rect x="1473.2" y="1124.6" width="49.6" height="19" fill="#ff0000" stroke="#7a0000" stroke-width="1.5"/>
<rect x="1473.2" y="1159.2" width="49.6" height="19.4" fill="#00ff00" stroke="#07380a" stroke-width="1.7"/>
<rect x="1473.2" y="1195" width="49.6" height="19" fill="#0670c2" stroke="#0a3a66" stroke-width="1.5"/>
<g class="t" font-size="27.4">
<text x="1533.6" y="1005.1">25%~75%</text>
<text x="1533.6" y="1039.8">Range</text>
<text x="1533.6" y="1074.3">Median</text>
<text x="1533.6" y="1108.6">Mean</text>
<text x="1533.6" y="1143.5">MLS</text>
<text x="1533.6" y="1178">FLS</text>
<text x="1533.6" y="1212.3">SLS</text>
</g>
<path fill="#000" fill-rule="evenodd" d="M0 0H1887 V1477 H0Z M3.5 3.9 V1473.1 H1883.5 V3.9Z"/>
</svg></body></html>
